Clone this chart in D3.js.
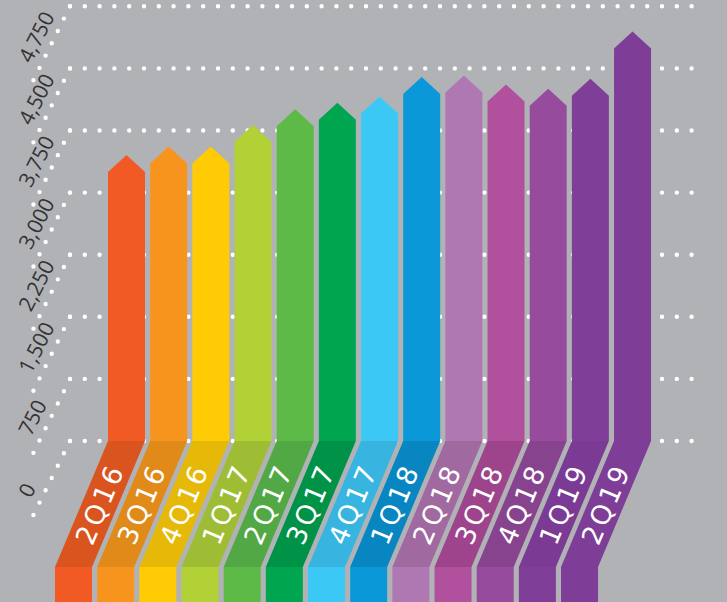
<!DOCTYPE html>
<html>
<head>
<meta charset="utf-8">
<script src="https://cdn.jsdelivr.net/npm/d3@7"></script>
<style>
  html, body { margin: 0; padding: 0; background: #b1b2b6; }
  svg { display: block; }
</style>
</head>
<body>
<div id="chart"></div>
<script>
// Quarterly values
const quarters = ['2Q16', '3Q16', '4Q16', '1Q17', '2Q17', '3Q17', '4Q17',
                  '1Q18', '2Q18', '3Q18', '4Q18', '1Q19', '2Q19'];
const values = [3250, 3350, 3350, 3610, 3800, 3880, 3955,
                4190, 4210, 4100, 4050, 4170, 4740];

// Gridline values and the labels printed next to them
const tickValues = [0, 750, 1500, 2250, 3000, 3750, 4500, 5250];
const tickLabels = ['0', '750', '1,500', '2,250', '3,000', '3,750', '4,500', '4,750'];

// Palette: bar face and the darker slanted foot
const barColors = ['#f15a24', '#f7941d', '#ffcb05', '#b1d136', '#5eba47', '#00a550', '#3cc8f5',
                   '#0a98d8', '#b078b3', '#b1509d', '#974b9d', '#7f3e98', '#7e3d97'];
const footColors = ['#da541f', '#e08a1a', '#e6b908', '#9fbd34', '#52a845', '#009247', '#37b5e0',
                    '#0886c1', '#a06aa1', '#9d448d', '#88438f', '#7b3a93', '#7e3d97'];

const width = 727;
const height = 602;

const svg = d3.select('#chart')
    .append('svg')
    .attr('width', width)
    .attr('height', height);

svg.append('rect')
    .attr('width', width)
    .attr('height', height)
    .attr('fill', '#b1b2b6');

// Scales
const y = d3.scaleLinear()
    .domain([0, 5250])
    .range([441, 6.3]);

const step = 42.17, gap = 5.17;
const x = d3.scaleBand()
    .domain(quarters)
    .range([108, 108 + quarters.length * step - gap])
    .paddingInner(gap / step)
    .paddingOuter(0);

const bw = x.bandwidth();
const baseY = y(0);
const footBottom = 567;
const shift = 53;
const arrowH = 17;

// Dotted gridlines with slanted tails
const grid = svg.append('g');

grid.selectAll('line.grid')
    .data(tickValues)
    .enter()
    .append('line')
    .attr('class', 'grid')
    .attr('x1', 70)
    .attr('x2', 694)
    .attr('y1', d => y(d))
    .attr('y2', d => y(d))
    .style('stroke', '#fff')
    .style('stroke-width', 4.4)
    .style('stroke-linecap', 'round')
    .style('stroke-dasharray', '0 14.8');

grid.selectAll('line.tail')
    .data(tickValues)
    .enter()
    .append('line')
    .attr('class', 'tail')
    .attr('x1', 70)
    .attr('y1', d => y(d))
    .attr('x2', 33.4)
    .attr('y2', d => y(d) + 74)
    .style('stroke', '#fff')
    .style('stroke-width', 4.4)
    .style('stroke-linecap', 'round')
    .style('stroke-dasharray', '0 13.75');

grid.selectAll('text')
    .data(tickValues)
    .enter()
    .append('text')
    .attr('transform', d => `translate(31,${y(d) + 58}) rotate(-63)`)
    .text((d, i) => tickLabels[i])
    .style('font-family', '"Open Sans", "Noto Sans", sans-serif')
    .style('font-size', '21px')
    .style('fill', '#333335');

// Bars with arrow heads
const bars = svg.append('g');

bars.selectAll('path')
    .data(quarters)
    .enter()
    .append('path')
    .attr('d', (d, i) => {
        const x0 = x(d);
        const top = y(values[i]);
        return `M${x0},${baseY}L${x0},${top}L${x0 + bw / 2},${top - arrowH}` +
               `L${x0 + bw},${top}L${x0 + bw},${baseY}Z`;
    })
    .style('fill', (d, i) => barColors[i]);

// Slanted feet
svg.append('g')
    .selectAll('path')
    .data(quarters)
    .enter()
    .append('path')
    .attr('d', d => {
        const x0 = x(d);
        return `M${x0},${baseY}L${x0 + bw},${baseY}L${x0 + bw - shift},${footBottom}` +
               `L${x0 - shift},${footBottom}Z`;
    })
    .style('fill', (d, i) => footColors[i]);

// Blocks under the feet
svg.append('g')
    .selectAll('rect')
    .data(quarters)
    .enter()
    .append('rect')
    .attr('x', d => x(d) - shift)
    .attr('y', footBottom)
    .attr('width', bw)
    .attr('height', height - footBottom)
    .style('fill', (d, i) => barColors[i]);

// Quarter labels along the feet
svg.append('g')
    .selectAll('text')
    .data(quarters)
    .enter()
    .append('text')
    .attr('transform', d => `translate(${x(d) + bw / 2 - shift / 2},${(baseY + footBottom) / 2}) rotate(-67)`)
    .attr('text-anchor', 'middle')
    .attr('dominant-baseline', 'central')
    .text(d => d)
    .style('font-family', '"DejaVu Sans", sans-serif')
    .style('font-size', '27px')
    .style('letter-spacing', '3px')
    .style('fill', '#fff');
</script>
</body>
</html>
